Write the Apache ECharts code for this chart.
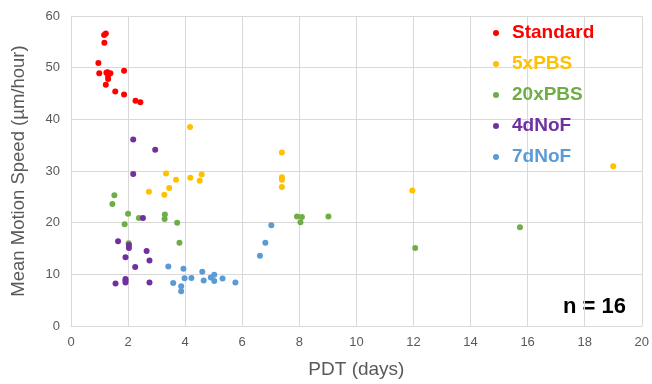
<!DOCTYPE html>
<html>
<head>
<meta charset="utf-8">
<script src="https://cdn.jsdelivr.net/npm/echarts@6/dist/echarts.min.js"></script>
<style>
html,body{margin:0;padding:0;background:#fff;}
#chart{width:652px;height:384px;}
</style>
</head>
<body>
<div id="chart"></div>
<script>
// Series data: [PDT (days), Mean Motion Speed (µm/hour)]
var standard = [
  [1.16, 56.3], [1.22, 56.6], [1.17, 54.8], [0.96, 50.9], [0.99, 48.9],
  [1.28, 49.1], [1.38, 48.9], [1.30, 48.4], [1.24, 49.0], [1.30, 47.8],
  [1.22, 46.7], [1.86, 49.4], [1.55, 45.4], [1.86, 44.8], [2.26, 43.6],
  [2.43, 43.3]
];
var pbs5 = [
  [4.17, 38.5], [3.33, 29.5], [3.68, 28.3], [4.18, 28.7], [4.58, 29.3],
  [4.51, 28.1], [3.44, 26.7], [3.27, 25.4], [2.73, 26.0], [7.39, 33.6],
  [7.39, 28.8], [7.39, 28.3], [7.39, 26.9], [11.96, 26.25], [19.0, 30.9]
];
var pbs20 = [
  [1.52, 25.3], [1.45, 23.6], [2.00, 21.75], [1.88, 19.7], [2.38, 20.9],
  [3.29, 21.6], [3.28, 20.7], [3.72, 20.0], [2.02, 16.0], [3.80, 16.1],
  [7.92, 21.2], [8.09, 21.1], [8.04, 20.1], [9.02, 21.2], [15.73, 19.1],
  [12.06, 15.1]
];
var noF4 = [
  [2.18, 36.1], [2.95, 34.1], [2.18, 29.4], [2.52, 20.9], [1.65, 16.4],
  [2.03, 15.7], [2.03, 15.1], [2.65, 14.5], [1.91, 13.3], [2.75, 12.7],
  [2.25, 11.4], [1.91, 9.1], [1.91, 8.8], [1.91, 8.4], [1.56, 8.25],
  [2.75, 8.4]
];
var noF7 = [
  [3.41, 11.5], [3.94, 11.1], [3.98, 9.25], [3.58, 8.3], [3.86, 7.7],
  [3.86, 6.75], [4.22, 9.3], [4.60, 10.5], [4.65, 8.8], [4.90, 9.4],
  [5.02, 9.9], [5.02, 8.7], [5.31, 9.2], [5.76, 8.4], [6.62, 13.6],
  [6.81, 16.1], [7.02, 19.5]
];
var seriesNames = ['Standard', '5xPBS', '20xPBS', '4dNoF', '7dNoF'];
var seriesColors = ['#FF0000', '#FFC000', '#70AD47', '#7030A0', '#5B9BD5'];
var seriesData = [standard, pbs5, pbs20, noF4, noF7];
var xTicks = { min: 0, max: 20, interval: 2 };
var yTicks = { min: 0, max: 60, interval: 10 };
var xTitle = 'PDT (days)';
var yTitle = 'Mean Motion Speed (µm/hour)';
var note = 'n = 16';

var chart = echarts.init(document.getElementById('chart'), null, { renderer: 'canvas' });
var font = 'Liberation Sans, Arial, sans-serif';
chart.setOption({
  animation: false,
  backgroundColor: '#ffffff',
  grid: { left: 71, right: 7, top: 16, bottom: 48, containLabel: false },
  xAxis: {
    type: 'value', min: xTicks.min, max: xTicks.max, interval: xTicks.interval,
    name: xTitle, nameLocation: 'middle', nameGap: 34,
    nameTextStyle: { color: '#595959', fontSize: 19, fontFamily: font },
    axisLine: { show: true, lineStyle: { color: '#D9D9D9', width: 1 } },
    axisTick: { show: false },
    axisLabel: { color: '#595959', fontSize: 13, fontFamily: font, margin: 10 },
    splitLine: { show: true, lineStyle: { color: '#D9D9D9', width: 1 } }
  },
  yAxis: {
    type: 'value', min: yTicks.min, max: yTicks.max, interval: yTicks.interval,
    name: yTitle, nameLocation: 'middle', nameGap: 43, nameRotate: 90,
    nameTextStyle: { color: '#595959', fontSize: 18.5, fontFamily: font },
    axisLine: { show: true, lineStyle: { color: '#D9D9D9', width: 1 } },
    axisTick: { show: false },
    axisLabel: { color: '#595959', fontSize: 13, fontFamily: font, margin: 11 },
    splitLine: { show: true, lineStyle: { color: '#D9D9D9', width: 1 } }
  },
  legend: {
    orient: 'vertical', left: 488, top: 18, itemGap: 11,
    itemWidth: 6, itemHeight: 6, icon: 'circle',
    data: seriesNames.map(function (n, i) {
      return { name: n, textStyle: { color: seriesColors[i] } };
    }),
    textStyle: { fontSize: 19, fontWeight: 'bold', fontFamily: font, lineHeight: 20, padding: [0, 0, 0, 8] }
  },
  graphic: [{
    type: 'text', right: 26, top: 296,
    style: { text: note, fill: '#000000', font: 'bold 22px ' + font }
  }],
  series: seriesNames.map(function (n, i) {
    return {
      name: n, type: 'scatter', data: seriesData[i],
      symbol: 'circle', symbolSize: 6,
      itemStyle: { color: seriesColors[i], opacity: 1 }
    };
  })
});
</script>
</body>
</html>
